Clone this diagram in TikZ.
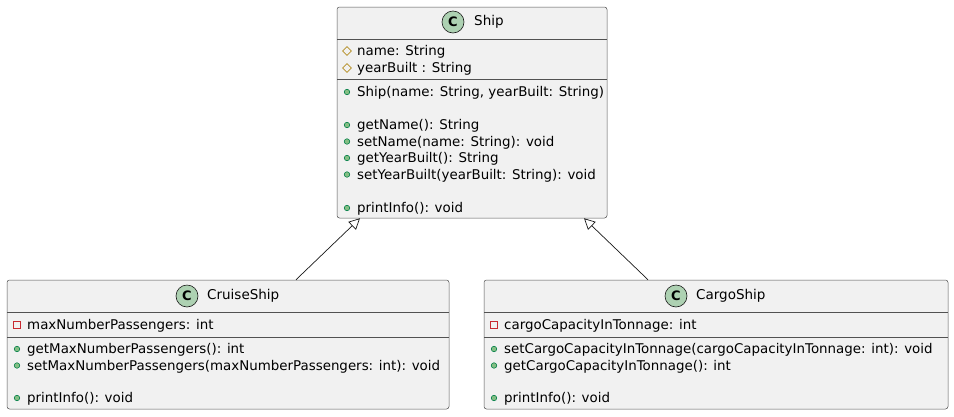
\documentclass[tikz,border=0pt]{standalone}
\usepackage{fontspec}
\setmainfont{DejaVu Sans}
\usetikzlibrary{arrows.meta,shapes.geometric}
\definecolor{boxbg}{HTML}{F1F1F1}
\definecolor{boxline}{HTML}{181818}
\definecolor{cgreen}{HTML}{ADD1B2}
\definecolor{pubfill}{HTML}{84BE84}
\definecolor{publine}{HTML}{038048}
\definecolor{protline}{HTML}{B38D22}
\definecolor{privline}{HTML}{C82930}
\tikzset{
  classbox/.style={draw=boxline!75, line width=0.5pt, fill=boxbg, rounded corners=2.5pt, inner sep=0pt, rectangle},
  divider/.style={draw=boxline!75, line width=0.5pt},
  cicon/.style={circle, draw=boxline, line width=0.6pt, fill=cgreen, minimum size=22pt, inner sep=0pt, font=\fontsize{13}{13}\selectfont\bfseries},
  ctitle/.style={anchor=west, inner sep=0pt, font=\fontsize{13.5}{15}\selectfont},
  member/.style={anchor=base west, inner sep=0pt, font=\fontsize{13.4}{15}\selectfont},
  pub/.style={circle, draw=publine, fill=pubfill, line width=0.6pt, minimum size=5.5pt, inner sep=0pt},
  prot/.style={diamond, draw=protline, line width=0.7pt, minimum size=9pt, inner sep=0pt},
  priv/.style={rectangle, draw=privline, line width=0.7pt, minimum size=7pt, inner sep=0pt},
  inherit/.style={draw=boxline, line width=0.7pt, -{Triangle[open, length=11pt, width=11pt, line width=0.7pt]}}
}
\begin{document}
\begin{tikzpicture}[x=1pt, y=-1pt]
\useasboundingbox (0,0) rectangle (954,416);
% ---------- Ship ----------
\node[classbox, minimum width=270pt, minimum height=211pt] (ship) at (472,112.5) {};
\draw[divider] (337,39) -- (607,39);
\draw[divider] (337,79) -- (607,79);
\node[cicon] (shipC) at (453,22) {C};
\node[ctitle] (shipT) at (474,22) {Ship};
\node[prot] (sp1) at (347,51) {};
\node[member] (sm1) at (357,55.5) {name: String};
\node[prot] (sp2) at (347,68) {};
\node[member] (sm2) at (357,72.5) {yearBuilt : String};
\node[pub] (so1) at (347,92) {};
\node[member] (sn1) at (357,96.5) {Ship(name: String, yearBuilt: String)};
\node[pub] (so2) at (347,125) {};
\node[member] (sn2) at (357,129.5) {getName(): String};
\node[pub] (so3) at (347,141.5) {};
\node[member] (sn3) at (357,146) {setName(name: String): void};
\node[pub] (so4) at (347,158) {};
\node[member] (sn4) at (357,162.5) {getYearBuilt(): String};
\node[pub] (so5) at (347,174.5) {};
\node[member] (sn5) at (357,179) {setYearBuilt(yearBuilt: String): void};
\node[pub] (so6) at (347,208) {};
\node[member] (sn6) at (357,212.5) {printInfo(): void};
% ---------- CruiseShip ----------
\node[classbox, minimum width=442pt, minimum height=129pt] (cruise) at (228,344.5) {};
\draw[divider] (7,312) -- (449,312);
\draw[divider] (7,337) -- (449,337);
\node[cicon] (cruiseC) at (187,296) {C};
\node[ctitle] (cruiseT) at (207,296) {CruiseShip};
\node[priv] (cp1) at (17,325) {};
\node[member] (cm1) at (27,329.5) {maxNumberPassengers: int};
\node[pub] (co1) at (17,349) {};
\node[member] (cn1) at (27,353.5) {getMaxNumberPassengers(): int};
\node[pub] (co2) at (17,365.5) {};
\node[member] (cn2) at (27,370) {setMaxNumberPassengers(maxNumberPassengers: int): void};
\node[pub] (co3) at (17,398) {};
\node[member] (cn3) at (27,402.5) {printInfo(): void};
% ---------- CargoShip ----------
\node[classbox, minimum width=464pt, minimum height=129pt] (cargo) at (716,344.5) {};
\draw[divider] (484,312) -- (948,312);
\draw[divider] (484,337) -- (948,337);
\node[cicon] (cargoC) at (676,296) {C};
\node[ctitle] (cargoT) at (696,296) {CargoShip};
\node[priv] (gp1) at (494,325) {};
\node[member] (gm1) at (504,329.5) {cargoCapacityInTonnage: int};
\node[pub] (go1) at (494,349) {};
\node[member] (gn1) at (504,353.5) {setCargoCapacityInTonnage(cargoCapacityInTonnage: int): void};
\node[pub] (go2) at (494,365.5) {};
\node[member] (gn2) at (504,370) {getCargoCapacityInTonnage(): int};
\node[pub] (go3) at (494,398) {};
\node[member] (gn3) at (504,402.5) {printInfo(): void};
% ---------- inheritance ----------
\draw[inherit] ([xshift=68pt]cruise.north) -- ([xshift=-112pt]ship.south);
\draw[inherit] ([xshift=-68pt]cargo.north) -- ([xshift=112pt]ship.south);
\end{tikzpicture}
\end{document}
